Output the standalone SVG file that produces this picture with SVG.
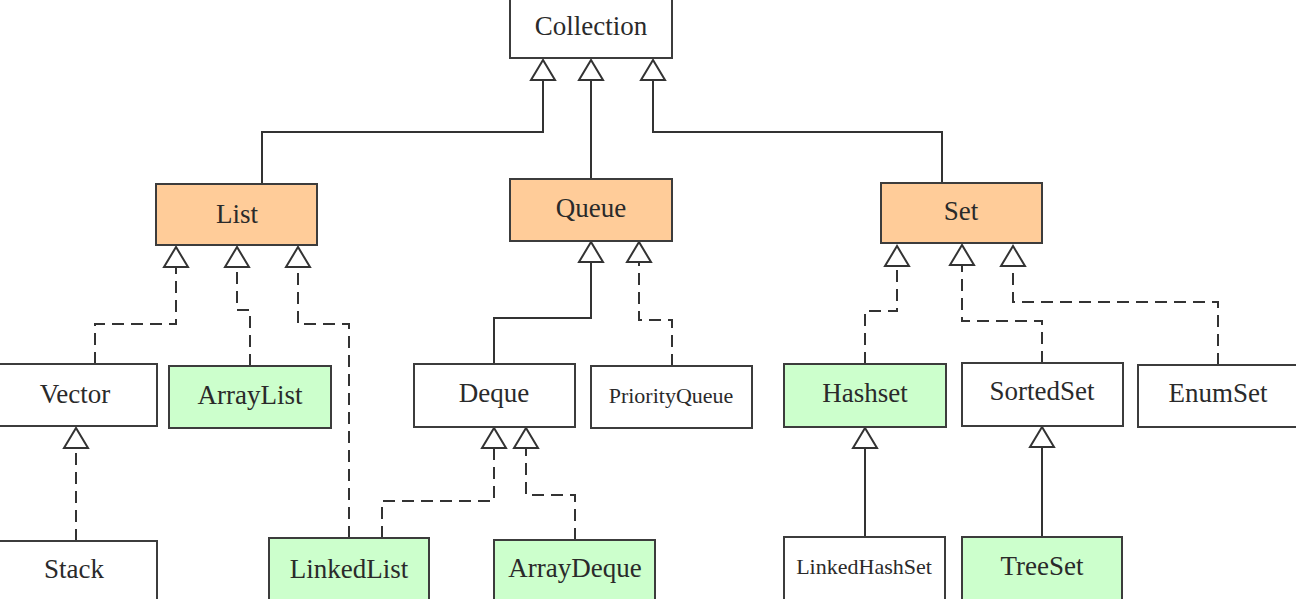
<svg xmlns="http://www.w3.org/2000/svg" width="1296" height="599" viewBox="0 0 1296 599">
  <style>
    .box { stroke: #3c3c3c; stroke-width: 2; }
    .plain { fill: #ffffff; }
    .iface { fill: #ffcc99; }
    .impl { fill: #ccffcc; }
    .lbl { font-family: "Liberation Serif", "Times New Roman", serif; font-size: 27px; fill: #2a2a2a; text-anchor: middle; }
    .small { font-size: 22px; }
    .edge { fill: none; stroke: #333333; stroke-width: 2; }
    .dash { stroke-dasharray: 12 7; }
  </style>
  <defs>
    <marker id="gen" viewBox="-23 -14 25 28" refX="0" refY="0" markerWidth="25" markerHeight="28" markerUnits="userSpaceOnUse" orient="auto" overflow="visible">
      <polygon points="0,0 -20,-12 -20,12" fill="#ffffff" stroke="#333333" stroke-width="2" stroke-linejoin="miter"/>
    </marker>
  </defs>
  <rect width="1296" height="599" fill="#ffffff"/>

  <!-- connectors: hollow-triangle generalisation / realisation arrows -->
  <g id="connectors">
    <path class="edge" d="M262 183 V132 H543 V60" marker-end="url(#gen)"/>
    <path class="edge" d="M591 179 V60" marker-end="url(#gen)"/>
    <path class="edge" d="M942 183 V132 H653 V60" marker-end="url(#gen)"/>
    <path class="edge dash" d="M95 364 V324 H176 V247" marker-end="url(#gen)"/>
    <path class="edge dash" d="M250 366 V310 H237 V247" marker-end="url(#gen)"/>
    <path class="edge dash" d="M349 538 V324 H298 V247" marker-end="url(#gen)"/>
    <path class="edge" d="M494 364 V318 H591 V242" marker-end="url(#gen)"/>
    <path class="edge dash" d="M672 366 V320 H639 V242" marker-end="url(#gen)"/>
    <path class="edge dash" d="M865 364 V311 H897 V246" marker-end="url(#gen)"/>
    <path class="edge dash" d="M1042 363 V321 H962 V245" marker-end="url(#gen)"/>
    <path class="edge dash" d="M1218 365 V302 H1013 V246" marker-end="url(#gen)"/>
    <path class="edge dash" d="M76 541 V428" marker-end="url(#gen)"/>
    <path class="edge dash" d="M382 538 V501 H494 V428" marker-end="url(#gen)"/>
    <path class="edge dash" d="M575 540 V495 H526 V428" marker-end="url(#gen)"/>
    <path class="edge" d="M865 537 V428" marker-end="url(#gen)"/>
    <path class="edge" d="M1042 537 V427" marker-end="url(#gen)"/>
  </g>

  <g id="Collection">
    <rect class="box plain" x="510" y="-4" width="162" height="62"/>
    <text class="lbl" x="591" y="35">Collection</text>
  </g>
  <g id="List">
    <rect class="box iface" x="156" y="184" width="161" height="61"/>
    <text class="lbl" x="237" y="223">List</text>
  </g>
  <g id="Queue">
    <rect class="box iface" x="510" y="179" width="162" height="62"/>
    <text class="lbl" x="591" y="217">Queue</text>
  </g>
  <g id="Set">
    <rect class="box iface" x="881" y="183" width="161" height="60"/>
    <text class="lbl" x="961" y="220">Set</text>
  </g>
  <g id="Vector">
    <rect class="box plain" x="-6" y="364" width="163" height="62"/>
    <text class="lbl" x="75" y="403">Vector</text>
  </g>
  <g id="ArrayList">
    <rect class="box impl" x="169" y="366" width="162" height="62"/>
    <text class="lbl" x="250" y="404">ArrayList</text>
  </g>
  <g id="Deque">
    <rect class="box plain" x="414" y="364" width="161" height="63"/>
    <text class="lbl" x="494" y="402">Deque</text>
  </g>
  <g id="PriorityQueue">
    <rect class="box plain" x="591" y="366" width="161" height="62"/>
    <text class="lbl small" x="671" y="403">PriorityQueue</text>
  </g>
  <g id="Hashset">
    <rect class="box impl" x="784" y="364" width="162" height="63"/>
    <text class="lbl" x="865" y="402">Hashset</text>
  </g>
  <g id="SortedSet">
    <rect class="box plain" x="962" y="363" width="161" height="63"/>
    <text class="lbl" x="1042" y="400">SortedSet</text>
  </g>
  <g id="EnumSet">
    <rect class="box plain" x="1138" y="365" width="162" height="62"/>
    <text class="lbl" x="1218" y="402">EnumSet</text>
  </g>
  <g id="Stack">
    <rect class="box plain" x="-6" y="541" width="163" height="64"/>
    <text class="lbl" x="74" y="578">Stack</text>
  </g>
  <g id="LinkedList">
    <rect class="box impl" x="269" y="538" width="160" height="66"/>
    <text class="lbl" x="349" y="578">LinkedList</text>
  </g>
  <g id="ArrayDeque">
    <rect class="box impl" x="494" y="540" width="161" height="64"/>
    <text class="lbl" x="575" y="577">ArrayDeque</text>
  </g>
  <g id="LinkedHashSet">
    <rect class="box plain" x="784" y="537" width="161" height="67"/>
    <text class="lbl small" x="864" y="574">LinkedHashSet</text>
  </g>
  <g id="TreeSet">
    <rect class="box impl" x="962" y="537" width="160" height="67"/>
    <text class="lbl" x="1042" y="575">TreeSet</text>
  </g>
</svg>
